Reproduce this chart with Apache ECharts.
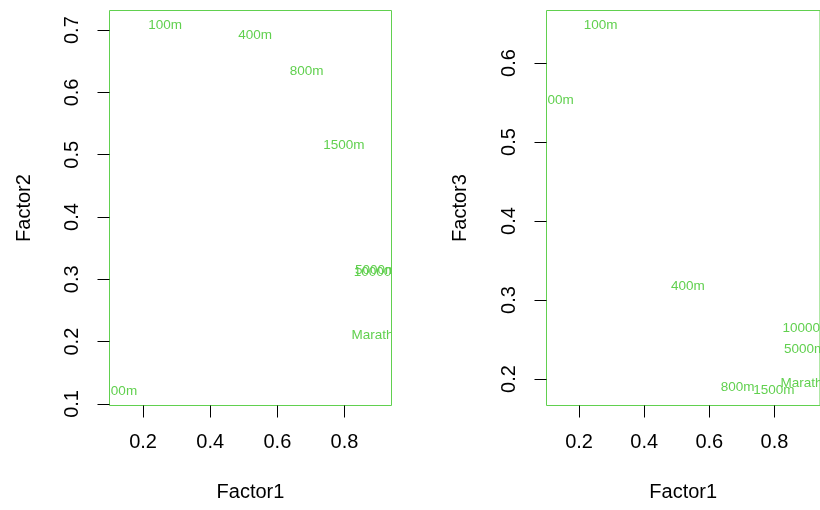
<!DOCTYPE html>
<html>
<head>
<meta charset="utf-8">
<script src="https://cdn.jsdelivr.net/npm/echarts@6/dist/echarts.min.js"></script>
<style>
  html, body { margin: 0; padding: 0; background: #fff; }
  #chart { width: 820px; height: 510px; }
</style>
</head>
<body>
<div id="chart"></div>
<script>
// event labels and loadings
var events  = ['100m', '200m', '400m', '800m', '1500m', '5000m', '10000m', 'Marathon'];
var factor1 = [0.266, 0.132, 0.534, 0.687, 0.798, 0.893, 0.900, 0.906];
var factor2 = [0.707, 0.120, 0.691, 0.634, 0.515, 0.315, 0.312, 0.210];
var factor3 = [0.648, 0.553, 0.317, 0.189, 0.186, 0.238, 0.264, 0.195];

var xTicks  = [0.2, 0.4, 0.6, 0.8];
var y2Ticks = [0.1, 0.2, 0.3, 0.4, 0.5, 0.6, 0.7];
var y3Ticks = [0.2, 0.3, 0.4, 0.5, 0.6];

var green = '#61D04F';
var font = 'Liberation Sans, Arial, Helvetica, sans-serif';

function xAxis(idx) {
  return {
    type: 'value', gridIndex: idx, min: 0.1, max: 0.94,
    name: 'Factor1', nameLocation: 'middle', nameGap: 77,
    nameTextStyle: { color: '#000', fontSize: 20, fontFamily: font },
    splitLine: { show: false },
    axisLine: { show: false },
    axisTick: { show: true, length: 12, customValues: xTicks, lineStyle: { color: '#000' } },
    axisLabel: { customValues: xTicks, margin: 27, color: '#000', fontSize: 20, fontFamily: font }
  };
}

function yAxis(idx, name, min, max, ticks, gap) {
  return {
    type: 'value', gridIndex: idx, min: min, max: max,
    name: name, nameLocation: 'middle', nameGap: gap, nameRotate: 90,
    nameTextStyle: { color: '#000', fontSize: 20, fontFamily: font },
    splitLine: { show: false },
    axisLine: { show: false },
    axisTick: { show: true, length: 12, customValues: ticks, lineStyle: { color: '#000' } },
    axisLabel: { customValues: ticks, rotate: 90, margin: 27, color: '#000', fontSize: 20, fontFamily: font,
      formatter: function (v) { return v.toFixed(1); } }
  };
}

function textSeries(idx, ys) {
  return {
    type: 'custom', xAxisIndex: idx, yAxisIndex: idx, clip: true,
    data: factor1.map(function (x, i) { return [x, ys[i]]; }),
    renderItem: function (params, api) {
      var p = api.coord([api.value(0), api.value(1)]);
      return {
        type: 'text', x: p[0], y: p[1],
        style: { text: events[params.dataIndex], fill: green, fontSize: 13.5, fontFamily: font,
                 align: 'center', verticalAlign: 'middle' }
      };
    }
  };
}

var myChart = echarts.init(document.getElementById('chart'));
myChart.setOption({
  animation: false,
  backgroundColor: '#fff',
  grid: [
    { left: 109.5, right: 428.5, top: 10.5, bottom: 104.5, show: true, borderColor: green, borderWidth: 1, backgroundColor: 'transparent' },
    { left: 546.5, right: -8, top: 10.5, bottom: 104.5, show: true, borderColor: green, borderWidth: 1, backgroundColor: 'transparent' }
  ],
  xAxis: [xAxis(0), xAxis(1)],
  yAxis: [
    yAxis(0, 'Factor2', 0.0975, 0.7315, y2Ticks, 75),
    yAxis(1, 'Factor3', 0.1665, 0.6665, y3Ticks, 76)
  ],
  series: [textSeries(0, factor2), textSeries(1, factor3)]
});
</script>
</body>
</html>
